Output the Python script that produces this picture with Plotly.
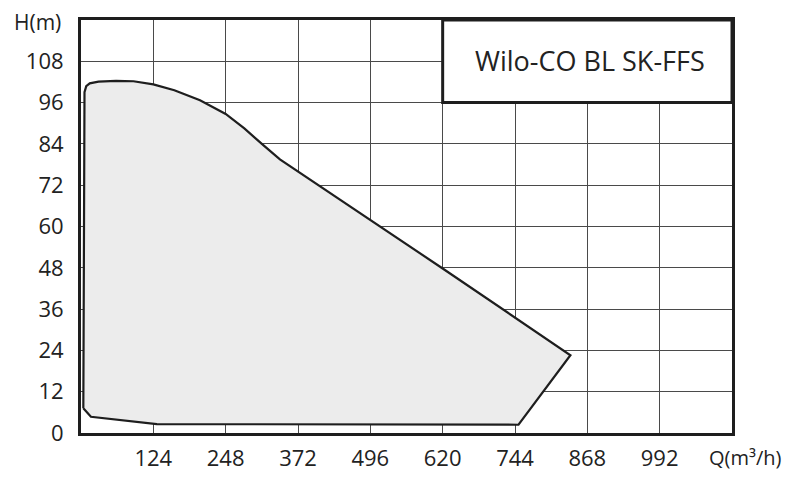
import plotly.graph_objects as go

# Envelope of the operating range (Q in m3/h, H in m)
Q_points = [4, 4.5, 5.5, 6, 9, 15, 30, 60, 90, 124, 160, 204, 248, 280, 312, 341, 620, 839, 750, 130, 17, 4]
H_points = [7.2, 30, 96, 99, 100.8, 101.6, 102.1, 102.3, 102.2, 101.3, 99.6, 96.7, 92.7, 88.5, 83.7, 79.5, 47.8, 22.6, 2.4, 2.6, 4.7, 7.2]

x_ticks = [124, 248, 372, 496, 620, 744, 868, 992]
y_ticks = [0, 12, 24, 36, 48, 60, 72, 84, 96, 108]
x_range = [0, 1116]
y_range = [0, 120]

title_text = "Wilo-CO BL SK-FFS"
x_title = "Q(m³/h)"
y_title = "H(m)"

FONT = "Open Sans"
DARK = "#1e1e1e"
GRID = "#4a4a4a"
TXT = "#222"

fig = go.Figure()
fig.add_trace(go.Scatter(
    x=Q_points, y=H_points, mode="lines", fill="toself",
    fillcolor="#ececec", line=dict(color=DARK, width=2.2),
    hoverinfo="skip", showlegend=False,
))

# title box in upper-right corner
fig.add_shape(type="rect", xref="x", yref="y", x0=620, x1=1116, y0=96, y1=120,
              fillcolor="white", line=dict(color=DARK, width=3), layer="above")
fig.add_annotation(x=872, y=108.2, xref="x", yref="y", text=title_text,
                   showarrow=False, font=dict(family=FONT, size=27, color=TXT),
                   xanchor="center", yanchor="middle")

fig.add_annotation(x=0, y=1, xref="paper", yref="paper", text=y_title,
                   showarrow=False, font=dict(family=FONT, size=21, color=TXT),
                   xanchor="right", yanchor="middle", xshift=-18, yshift=-2)
fig.add_annotation(x=1, y=0, xref="paper", yref="paper", text=x_title,
                   showarrow=False, font=dict(family=FONT, size=20, color=TXT),
                   xanchor="left", yanchor="middle", xshift=-25, yshift=-24)

fig.update_xaxes(range=x_range, tickvals=x_ticks, ticktext=[str(v) for v in x_ticks],
                 showgrid=True, gridcolor=GRID, gridwidth=1, zeroline=False,
                 showline=True, linecolor=DARK, linewidth=3, mirror=True,
                 ticks="", ticklabelstandoff=4, automargin=False,
                 tickfont=dict(family=FONT, size=22, color=TXT))
fig.update_yaxes(range=y_range, tickvals=y_ticks, ticktext=[str(v) for v in y_ticks],
                 showgrid=True, gridcolor=GRID, gridwidth=1, zeroline=False,
                 showline=True, linecolor=DARK, linewidth=3, mirror=True,
                 ticks="", ticklabelstandoff=10, automargin=False,
                 tickfont=dict(family=FONT, size=22, color=TXT))

# page body has an 8px default margin: compensate so the plot lands where the reference has it
fig.update_layout(width=786, height=478, margin=dict(l=73, r=62, t=12, b=53),
                  paper_bgcolor="white", plot_bgcolor="white", showlegend=False)

fig.write_html("out.html")
